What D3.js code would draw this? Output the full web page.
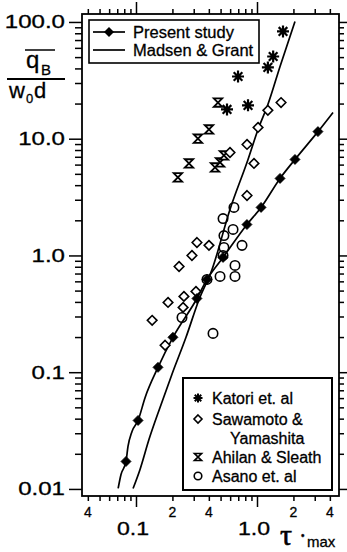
<!DOCTYPE html>
<html>
<head>
<meta charset="utf-8">
<script src="https://cdn.jsdelivr.net/npm/d3@7"></script>
<style>
body { margin: 0; background: #fff; }
text { font-family: "Liberation Sans", Arial, Helvetica, sans-serif; fill: #000; stroke: #000; stroke-width: 0.3px; }
</style>
</head>
<body>
<script>

// data (tau*max , qB/w0d)
var presentTau = [0.0827, 0.104, 0.152, 0.202, 0.319, 0.386, 0.524, 0.826, 1.08, 1.55, 2.06, 3.19];
var presentQ   = [0.0172, 0.0386, 0.110, 0.199, 0.428, 0.623, 0.962, 1.84, 2.58, 4.57, 6.64, 11.5];

// curve drawn through the present study points
var presentFitTau = [0.0712, 0.0752, 0.0827, 0.0859, 0.0927, 0.104, 0.119, 0.152, 0.202, 0.319, 0.386, 0.524, 0.826, 1.08, 1.55, 2.06, 3.19, 4.25];
var presentFitQ   = [0.0101, 0.0133, 0.0172, 0.0231, 0.0311, 0.0386, 0.0608, 0.110, 0.199, 0.428, 0.623, 0.962, 1.84, 2.58, 4.57, 6.64, 11.5, 16.8];

var madsenTau = [0.0946, 0.108, 0.128, 0.158, 0.198, 0.259, 0.332, 0.425, 0.598, 0.843, 1.02, 1.23, 1.55, 2.06];
var madsenQ   = [0.0101, 0.0147, 0.0265, 0.0499, 0.0957, 0.199, 0.420, 0.759, 2.48, 6.64, 12.0, 19.6, 41.6, 101];

var katoriTau = [1.64, 1.36, 1.23, 0.697, 0.565, 0.843];
var katoriQ   = [82.9, 50.6, 40.8, 34.1, 17.8, 19.3];

var sawamotoTau = [1.58, 1.23, 1.02, 0.827, 0.944, 0.827, 0.598, 0.319, 0.401, 0.290, 0.227, 0.184, 0.136, 0.249, 0.313, 0.245, 0.174];
var sawamotoQ   = [20.4, 17.5, 12.5, 8.93, 6.14, 3.26, 7.62, 1.29, 1.22, 1.0, 0.805, 0.396, 0.278, 0.446, 0.492, 0.359, 0.170];

var ahilanTau = [0.476, 0.401, 0.325, 0.274, 0.222, 0.450, 0.495, 0.533];
var ahilanQ   = [20.4, 12.0, 10.0, 6.14, 4.66, 5.67, 6.26, 7.19];

var asanoTau = [0.645, 0.524, 0.634, 0.533, 0.752, 0.533, 0.524, 0.658, 0.495, 0.658, 0.386, 0.240, 0.433];
var asanoQ   = [2.58, 2.07, 1.67, 1.48, 1.22, 1.17, 1.0, 0.821, 0.661, 0.661, 0.623, 0.294, 0.215];

var yMajor = [0.01, 0.1, 1, 10, 100];
var yMajorLabels = ["0.01", "0.1", "1.0", "10.0", "100.0"];
var xMajor = [0.1, 1];
var xMajorLabels = ["0.1", "1.0"];
var xMinorLabeled = [0.04, 0.2, 0.4, 2, 4];
var xMinorLabels = ["4", "2", "4", "2", "4"];

var legendNames = ["Katori et. al", "Sawamoto &", "Ahilan & Sleath", "Asano et. al"];

var w = 347, h = 552;
var margin = {top: 14, right: 8, bottom: 56, left: 82};

var x = d3.scaleLog().domain([0.0358, 4.76]).range([margin.left, w - margin.right]);
var y = d3.scaleLog().domain([0.0087, 117]).range([h - margin.bottom, margin.top]);

var svg = d3.select("body").append("svg")
  .attr("width", w)
  .attr("height", h);

// minor ticks (2..9 of each decade)
var xMinor = x.ticks().filter(function (d) { return xMajor.indexOf(d) < 0; });
var yMinor = y.ticks().filter(function (d) { return yMajor.indexOf(d) < 0 && d > 0.0095; });

function tickAxis(axis, vals, size, tr) {
  var g = svg.append("g")
    .attr("transform", tr)
    .call(axis.tickValues(vals).tickSize(size).tickSizeOuter(0).tickFormat(""));
  g.select(".domain").remove();
  g.selectAll("line").attr("stroke", "#000").attr("stroke-width", 1.5);
}
var bottom = h - margin.bottom, right = w - margin.right;
tickAxis(d3.axisBottom(x), xMinor, 5, "translate(0," + bottom + ")");
tickAxis(d3.axisBottom(x), xMajor, 11, "translate(0," + bottom + ")");
tickAxis(d3.axisTop(x), xMinor, 5, "translate(0," + margin.top + ")");
tickAxis(d3.axisTop(x), xMajor, 12, "translate(0," + margin.top + ")");
tickAxis(d3.axisLeft(y), yMinor, 7, "translate(" + margin.left + ",0)");
tickAxis(d3.axisLeft(y), yMajor, 13, "translate(" + margin.left + ",0)");
tickAxis(d3.axisRight(y), yMinor, 5, "translate(" + right + ",0)");
tickAxis(d3.axisRight(y), yMajor, 8, "translate(" + right + ",0)");

// frame
svg.append("rect")
  .attr("x", margin.left).attr("y", margin.top)
  .attr("width", right - margin.left).attr("height", bottom - margin.top)
  .attr("fill", "none").attr("stroke", "#000").attr("stroke-width", 1.8);

// tick labels (wide digits as in the original)
yMajor.forEach(function (d, i) {
  svg.append("g").attr("transform", "translate(65," + (y(d) + 6.5) + ")")
    .append("text")
    .attr("text-anchor", "end")
    .attr("transform", "scale(1.3,1)")
    .style("font-size", "18.5px")
    .text(yMajorLabels[i]);
});
xMajor.forEach(function (d, i) {
  svg.append("g").attr("transform", "translate(" + (x(d) - 3) + ",535)")
    .append("text")
    .attr("text-anchor", "middle")
    .attr("transform", "scale(1.25,1)")
    .style("font-size", "18.5px")
    .text(xMajorLabels[i]);
});
xMinorLabeled.forEach(function (d, i) {
  svg.append("text")
    .attr("x", x(d)).attr("y", 517)
    .attr("text-anchor", "middle")
    .style("font-size", "14px")
    .text(xMinorLabels[i]);
});

// axis titles
svg.append("line").attr("x1", 25).attr("x2", 55).attr("y1", 50).attr("y2", 50)
  .attr("stroke", "#000").attr("stroke-width", 1.5);
svg.append("text").attr("x", 26).attr("y", 68).style("font-size", "24px").text("q");
svg.append("text").attr("x", 41).attr("y", 75).style("font-size", "15px").text("B");
svg.append("line").attr("x1", 7).attr("x2", 65).attr("y1", 79).attr("y2", 79)
  .attr("stroke", "#000").attr("stroke-width", 1.8);
svg.append("text").attr("x", 9).attr("y", 98).style("font-size", "22px").text("w");
svg.append("text").attr("x", 26).attr("y", 103).style("font-size", "13px").text("0");
svg.append("text").attr("x", 34).attr("y", 98).style("font-size", "22px").text("d");

svg.append("text").attr("x", 280).attr("y", 545)
  .style("font-family", "'Liberation Serif', 'Times New Roman', serif")
  .style("font-size", "30px").style("stroke-width", "0.6px").text("τ");
svg.append("text").attr("x", 301).attr("y", 539).style("font-size", "10px").text("•");
svg.append("text").attr("x", 307).attr("y", 547).style("font-size", "15px").text("max");

// lines
var line = d3.line()
  .x(function (d) { return x(d[0]); })
  .y(function (d) { return y(d[1]); })
  .curve(d3.curveMonotoneX);

svg.append("path")
  .datum(d3.zip(madsenTau, madsenQ))
  .attr("d", line)
  .attr("fill", "none").attr("stroke", "#000").attr("stroke-width", 1.7);

svg.append("path")
  .datum(d3.zip(presentFitTau, presentFitQ))
  .attr("d", line)
  .attr("fill", "none").attr("stroke", "#000").attr("stroke-width", 1.7);

// symbols
function diamond(r) { return "M0," + (-r) + "L" + r + ",0L0," + r + "L" + (-r) + ",0Z"; }
function hourglass(r) { return "M" + (-r) + "," + (-r) + "H" + r + "L" + (-r) + "," + r + "H" + r + "Z"; }
function star(r) {
  var p = "", a = r * 0.72;
  p += "M0," + (-r) + "V" + r;
  p += "M" + (-r) + ",0H" + r;
  p += "M" + (-a) + "," + (-a) + "L" + a + "," + a;
  p += "M" + (-a) + "," + a + "L" + a + "," + (-a);
  return p;
}

function points(tau, q, draw) {
  var g = svg.append("g");
  g.selectAll("path")
    .data(d3.zip(tau, q))
    .enter()
    .append("path")
    .attr("transform", function (d) { return "translate(" + x(d[0]) + "," + y(d[1]) + ")"; })
    .each(draw);
}

points(katoriTau, katoriQ, function () {
  d3.select(this).attr("d", star(6)).attr("fill", "none").attr("stroke", "#000").attr("stroke-width", 2.2);
});
points(ahilanTau, ahilanQ, function () {
  d3.select(this).attr("d", hourglass(4.2)).attr("fill", "#fff").attr("stroke", "#000").attr("stroke-width", 1.8);
});
points(sawamotoTau, sawamotoQ, function () {
  d3.select(this).attr("d", diamond(4.8)).attr("fill", "#fff").attr("stroke", "#000").attr("stroke-width", 1.6);
});
points(asanoTau, asanoQ, function () {
  d3.select(this).attr("d", d3.symbol(d3.symbolCircle, 70)()).attr("fill", "none").attr("stroke", "#000").attr("stroke-width", 1.6);
});
points(presentTau, presentQ, function () {
  d3.select(this).attr("d", diamond(5)).attr("fill", "#000").attr("stroke", "#000").attr("stroke-width", 0.8);
});

// legend 1
svg.append("rect").attr("x", 89).attr("y", 20).attr("width", 170).attr("height", 43)
  .attr("fill", "#fff").attr("stroke", "#000").attr("stroke-width", 1.6);
svg.append("line").attr("x1", 93).attr("x2", 125).attr("y1", 32).attr("y2", 32)
  .attr("stroke", "#000").attr("stroke-width", 1.7);
svg.append("path").attr("transform", "translate(109,32)").attr("d", diamond(5)).attr("fill", "#000");
svg.append("text").attr("x", 133).attr("y", 38).style("font-size", "16.5px").text("Present study");
svg.append("line").attr("x1", 93).attr("x2", 125).attr("y1", 50).attr("y2", 50)
  .attr("stroke", "#000").attr("stroke-width", 1.7);
svg.append("text").attr("x", 133).attr("y", 56).style("font-size", "16.5px").text("Madsen & Grant");

// legend 2
svg.append("rect").attr("x", 183).attr("y", 378).attr("width", 149).attr("height", 112)
  .attr("fill", "#fff").attr("stroke", "#000").attr("stroke-width", 2);
var legY = [398, 419, 457, 476];
var legSym = [
  function (s) { s.attr("d", star(4.5)).attr("fill", "none").attr("stroke", "#000").attr("stroke-width", 2); },
  function (s) { s.attr("d", diamond(4)).attr("fill", "none").attr("stroke", "#000").attr("stroke-width", 1.6); },
  function (s) { s.attr("d", hourglass(3.5)).attr("fill", "none").attr("stroke", "#000").attr("stroke-width", 1.7); },
  function (s) { s.attr("d", d3.symbol(d3.symbolCircle, 45)()).attr("fill", "none").attr("stroke", "#000").attr("stroke-width", 1.6); }
];
legendNames.forEach(function (name, i) {
  svg.append("path").attr("transform", "translate(198," + legY[i] + ")").call(legSym[i]);
  svg.append("text").attr("x", 212).attr("y", legY[i] + 6).style("font-size", "16px").text(name);
});
svg.append("text").attr("x", 230).attr("y", 444).style("font-size", "16px").text("Yamashita");

</script>
</body>
</html>
